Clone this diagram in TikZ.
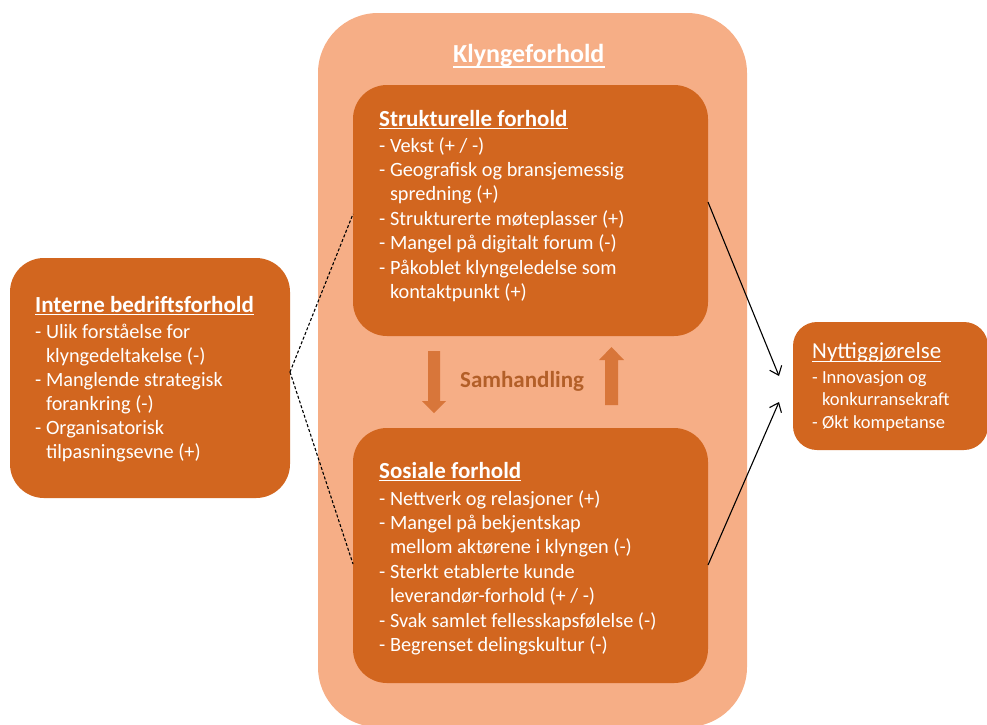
\documentclass[tikz,border=0pt]{standalone}
\usepackage{fontspec}
\setmainfont{Carlito}
\usetikzlibrary{arrows.meta,calc}

\definecolor{clusterbg}{HTML}{F6AE86}
\definecolor{boxfill}{HTML}{D2661F}
\definecolor{flowarrow}{HTML}{D8763A}
\definecolor{flowtext}{HTML}{B35F28}

% multi-line item lists are placed by the baseline of their last line
\tikzset{
  x=1pt, y=-1pt,
  panel/.style={fill=boxfill, draw=none, rounded corners=34pt},
  heading/.style={anchor=base west, inner sep=0pt, text=white, font=\bfseries\fontsize{23}{27}\selectfont},
  items/.style={anchor=base west, inner sep=0pt, text=white, align=left, font=\fontsize{20.3}{24.4}\selectfont},
  headline/.style={draw=white, line width=1.4pt},
  link/.style={draw=black, line width=1.1pt, -{Straight Barb[length=8pt,width=13pt,line width=1.1pt]}},
  dotlink/.style={draw=black, line width=1.1pt, dash pattern=on 3pt off 2pt},
}
\newcommand{\ind}{\hphantom{- }}

\begin{document}
\begin{tikzpicture}
\useasboundingbox (0,0) rectangle (987,724);
\clip (0,0) rectangle (987,724);

% cluster background
\fill[clusterbg, rounded corners=60pt] (318,13) rectangle (747,727);
\node[heading, font=\bfseries\fontsize{26}{30}\selectfont] (kt) at (453,62) {Klyngeforhold};
\draw[headline] ($(kt.base west)+(0,5)$) -- ($(kt.base east)+(0,5)$);

% structural conditions
\fill[panel] (353,85) rectangle (708,336);
\node[heading] (st) at (379,126) {Strukturelle forhold};
\draw[headline] ($(st.base west)+(0,2.5)$) -- ($(st.base east)+(0,2.5)$);
\node[items] (sl) at (379,298.4) {- Vekst (+ / -)\\
- Geografisk og bransjemessig\\
\ind spredning (+)\\
- Strukturerte møteplasser (+)\\
- Mangel på digitalt forum (-)\\
- Påkoblet klyngeledelse som\\
\ind kontaktpunkt (+)};

% social conditions
\fill[panel] (353,428) rectangle (708,683);
\node[heading] (so) at (379,478) {Sosiale forhold};
\draw[headline] ($(so.base west)+(0,2.5)$) -- ($(so.base east)+(0,2.5)$);
\node[items] (sol) at (379,651.5) {- Nettverk og relasjoner (+)\\
- Mangel på bekjentskap\\
\ind mellom aktørene i klyngen (-)\\
- Sterkt etablerte kunde\\
\ind leverandør-forhold (+ / -)\\
- Svak samlet fellesskapsfølelse (-)\\
- Begrenset delingskultur (-)};

% internal company conditions
\fill[panel] (10,258) rectangle (290,498);
\node[heading] (it) at (35,312) {Interne bedriftsforhold};
\draw[headline] ($(it.base west)+(0,2.5)$) -- ($(it.base east)+(0,2.5)$);
\node[items, font=\fontsize{20.3}{24}\selectfont] (il) at (35,458) {- Ulik forståelse for\\
\ind klyngedeltakelse (-)\\
- Manglende strategisk\\
\ind forankring (-)\\
- Organisatorisk\\
\ind tilpasningsevne (+)};

% outcomes
\fill[panel, rounded corners=24pt] (793,322) rectangle (988,450);
\node[heading, font=\fontsize{22.9}{26}\selectfont] (nt) at (812,358) {Nyttiggjørelse};
\draw[headline, line width=1.2pt] ($(nt.base west)+(0,3.5)$) -- ($(nt.base east)+(0,3.5)$);
\node[items, font=\fontsize{18.5}{22.5}\selectfont] (nl) at (812,428) {- Innovasjon og\\
\ind konkurransekraft\\
- Økt kompetanse};

% interaction arrows
\fill[flowarrow] (428,351) -- (440,351) -- (440,401) -- (446,401) -- (434,413)
  -- (422,401) -- (428,401) -- cycle;
\fill[flowarrow] (605,405) -- (618,405) -- (618,360) -- (624,360) -- (611.5,347)
  -- (599,360) -- (605,360) -- cycle;
\node[anchor=base west, inner sep=0pt, text=flowtext, font=\bfseries\fontsize{23}{27}\selectfont] (sam) at (460,387) {Samhandling};

% connectors
\coordinate (stR) at (708,202);
\coordinate (soR) at (708,565);
\coordinate (stL) at (353,214);
\coordinate (soL) at (353,564);
\coordinate (inR) at (290,372);
\coordinate (tipA) at (779,376);
\coordinate (tipB) at (779,402);
\draw[link] (stR) -- (tipA);
\draw[link] (soR) -- (tipB);
\draw[dotlink] (inR) -- (stL);
\draw[dotlink] (inR) -- (soL);
\end{tikzpicture}
\end{document}
